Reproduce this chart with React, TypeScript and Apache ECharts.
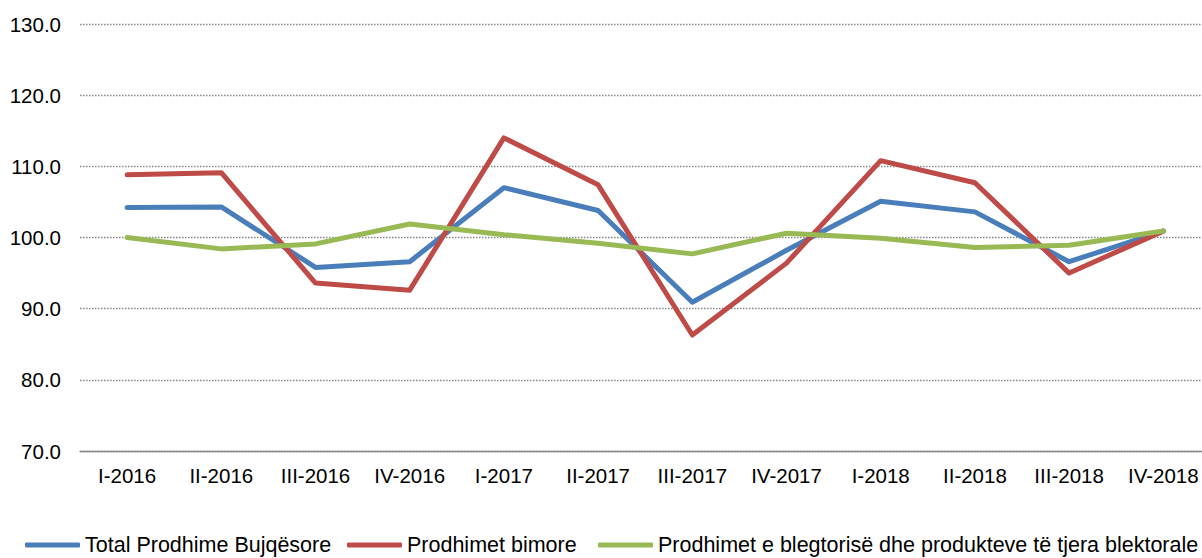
import React, { useEffect, useRef } from "react";
import * as echarts from "echarts";

const categories = ["I-2016", "II-2016", "III-2016", "IV-2016", "I-2017", "II-2017", "III-2017", "IV-2017", "I-2018", "II-2018", "III-2018", "IV-2018"];
const totalValues = [104.2, 104.3, 95.8, 96.6, 107.0, 103.8, 90.9, 98.2, 105.1, 103.6, 96.6, 100.9];
const cropValues = [108.8, 109.1, 93.6, 92.6, 114.0, 107.4, 86.3, 96.4, 110.8, 107.7, 95.0, 100.9];
const livestockValues = [100.0, 98.4, 99.1, 101.9, 100.4, 99.2, 97.7, 100.6, 99.9, 98.6, 98.9, 100.9];
const seriesNames = [
  "Total Prodhime Bujqësore",
  "Prodhimet bimore",
  "Prodhimet e blegtorisë dhe produkteve të tjera blektorale",
];
const seriesColors = ["#4a7ebb", "#be4b48", "#98b954"];
const legendLefts = [25, 347, 598];

const FONT = "'Liberation Sans', Arial, sans-serif";
const FS = 20.5;
const LFS = 21.5;

export default function App() {
  const ref = useRef<HTMLDivElement>(null);
  useEffect(() => {
    if (!ref.current) return;
    const chart = echarts.init(ref.current, undefined, { renderer: "svg" });
    const data = [totalValues, cropValues, livestockValues];
    chart.setOption({
      animation: false,
      backgroundColor: "#ffffff",
      textStyle: { fontFamily: FONT },
      grid: { left: 80, right: 1.6, top: 24, bottom: 107, containLabel: false },
      legend: seriesNames.map((n, i) => ({
        data: [n],
        left: legendLefts[i],
        top: 534,
        padding: 0,
        icon: "roundRect",
        itemWidth: 55,
        itemHeight: 5,
        textStyle: { fontFamily: FONT, fontSize: LFS, lineHeight: 22, color: "#000" },
        selectedMode: false,
      })),
      xAxis: {
        type: "category",
        data: categories,
        boundaryGap: true,
        axisTick: { show: false },
        axisLine: { lineStyle: { color: "#868686", width: 1.4 } },
        axisLabel: { color: "#000", fontFamily: FONT, fontSize: FS, margin: 14, interval: 0 },
      },
      yAxis: {
        type: "value",
        min: 70,
        max: 130,
        interval: 10,
        axisLine: { show: false },
        axisTick: { show: false },
        axisLabel: {
          color: "#000",
          fontFamily: FONT,
          fontSize: FS,
          margin: 19,
          formatter: (v: number) => v.toFixed(1),
        },
        splitLine: { lineStyle: { color: "#868686", width: 1.4, type: [1.5, 1.5] } },
      },
      series: seriesNames.map((n, i) => ({
        name: n,
        type: "line",
        data: data[i],
        symbol: "none",
        color: seriesColors[i],
        lineStyle: { width: 5, color: seriesColors[i], cap: "round", join: "round" },
        itemStyle: { color: seriesColors[i] },
      })),
    });
    return () => chart.dispose();
  }, []);
  return (
    <div style={{ position: "absolute", left: 0, top: 0, width: 1202, height: 558, overflow: "hidden" }}>
      <div ref={ref} style={{ position: "absolute", left: 0, top: 0, width: 1212, height: 558 }} />
    </div>
  );
}
